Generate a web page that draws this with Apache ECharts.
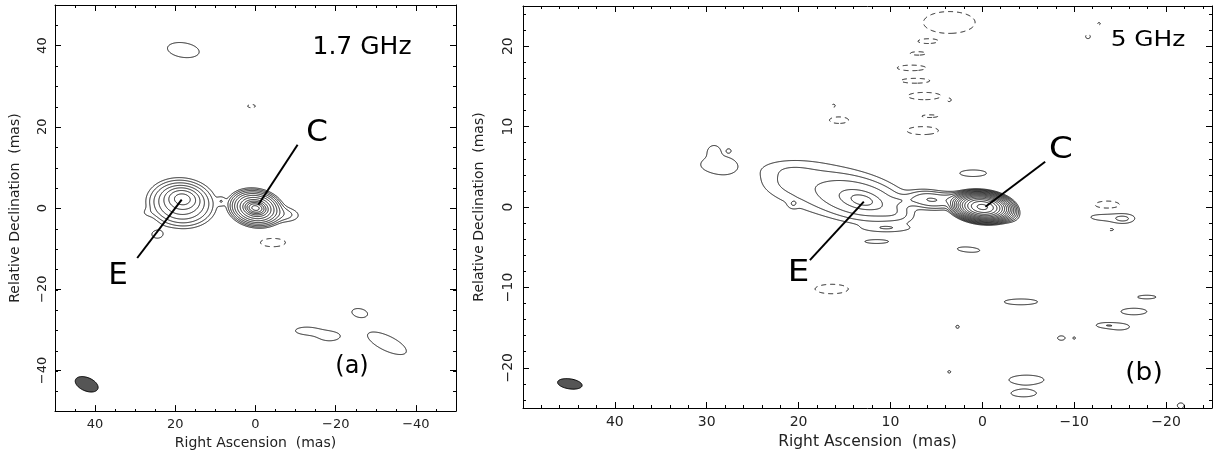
<!DOCTYPE html>
<html><head><meta charset="utf-8">
<script src="https://cdn.jsdelivr.net/npm/echarts@6/dist/echarts.min.js"></script>
<style>html,body{margin:0;padding:0;background:#fff}#c{width:1216px;height:455px}</style>
</head><body><div id="c"></div>
<script>
// ---------------- DATA ----------------
// Panel (a) 1.7 GHz : Gaussian brightness components [RA mas, Dec mas, peak, sigma major, sigma minor, angle deg]
const compsA = [
  [0, 0, 2600, 1.05, 0.65, 10],
  [0, 0, 300, 2.17, 1.45, 10],
  [-6.5, -1.5, 3, 2.8, 1.2, 5],
  [18.2, 2.3, 70, 1.9, 1.25, 5],
  [18.5, 1.2, 30, 3.4, 2.4, 5],
  [8.5, 1.7, 1.6, 0.8, 0.8, 0],
  [27.0, -1.2, 0.7, 1.3, 0.8, 0],
  [24.5, -6.5, 1.3, 1.8, 1.25, 0],
  [18, 38.9, 1.6, 4.1, 1.85, 8],
  [1.0, 25.1, -1.3, 1.3, 0.55, 0],
  [-4.35, -8.5, -1.6, 3.2, 1.05, 0],
  [-26, -25.8, 1.6, 1.95, 1.03, 10],
  [-12.5, -30.2, 1.4, 3.0, 1.0, 0],
  [-18.5, -31.6, 1.4, 3.0, 1.3, 0],
  [-32.8, -33.3, 1.6, 5.4, 1.9, 25]
];
const levelsA = [-1, 1, 2, 4, 8, 16, 32, 64, 128, 256, 512, 1024, 2048];
const beamA = [[42.1, -43.4, 3.0, 1.65, 22]];
const pointersA = [[[-0.7, 0.8], [-10.5, 15.6]], [[18.4, 2.05], [29.5, -12.3]]];

// Panel (b) 5 GHz
const compsB = [
  [0, 0, 20000, 0.9, 0.5, 8],
  [-2.4, -0.7, 10, 0.75, 0.5, 20],
  [3.0, 0.9, 6, 1.0, 0.5, 5],
  [5.6, 0.9, 8, 1.3, 0.6, 8],
  [8.6, 0.8, 1.6, 1.2, 0.4, 0],
  [13.1, 0.85, 16, 0.9, 0.45, 15],
  [13.1, 0.85, 8, 2.6, 1.3, 15],
  [17.0, 2.2, 3, 4.6, 2.0, 12],
  [10.0, -0.6, 1.5, 1.4, 0.6, 20],
  [21.0, 3.2, 0.6, 1.6, 1.0, 5],
  [21.0, 4.8, 0.6, 2.2, 0.7, 0],
  [20.6, 0.35, 1.1, 0.35, 0.35, 0],
  [29.7, 5.3, 1.1, 1.6, 1.1, 0],
  [27.9, 5.1, 1.1, 1.1, 0.9, 0],
  [29.2, 7.1, 1.3, 0.6, 0.6, 0],
  [27.6, 7.0, 1.5, 0.2, 0.2, 0],
  [1.0, 4.2, 1.5, 1.6, 0.45, 0],
  [10.3, -2.65, 1.5, 1.9, 0.35, 0],
  [11.5, -4.3, 1.5, 1.35, 0.25, 0],
  [1.5, -5.3, 1.5, 1.35, 0.35, 5],
  [-4.2, -11.8, 1.5, 2.0, 0.4, 0],
  [-17.9, -11.2, 1.5, 1.1, 0.25, 0],
  [-16.5, -13.0, 1.5, 1.55, 0.45, 0],
  [-13.3, -14.7, 1.5, 0.9, 0.28, 0],
  [-15.0, -14.9, 1.5, 1.1, 0.42, 0],
  [2.7, -14.9, 1.5, 0.2, 0.2, 0],
  [-8.6, -16.3, 1.5, 0.45, 0.3, 0],
  [-10.0, -16.3, 1.5, 0.15, 0.15, 0],
  [3.6, -20.5, 1.5, 0.17, 0.17, 0],
  [-4.8, -21.5, 1.5, 2.1, 0.65, 0],
  [-4.5, -23.2, 1.5, 1.45, 0.45, 0],
  [-21.6, -24.7, 1.4, 0.45, 0.4, 0],
  [-13.5, -1.2, 1.4, 2.2, 0.6, 0],
  [-15.4, -1.5, 1.6, 0.8, 0.4, 0],
  [-13.6, 0.2, -1.5, 1.6, 0.6, 0],
  [-14.0, -2.8, -1.3, 0.4, 0.2, 0],
  [-11.5, 21.2, -1.3, 0.35, 0.35, 0],
  [-12.7, 22.8, -1.5, 0.15, 0.15, 0],
  [16.2, 12.6, -1.5, 0.2, 0.2, 0],
  [15.6, 10.8, -1.5, 1.15, 0.45, 0],
  [16.4, -10.2, -1.5, 2.0, 0.65, 0],
  [3.6, 22.95, -1.6, 2.9, 1.4, 0],
  [6.0, 20.6, -1.4, 0.95, 0.25, 0],
  [7.0, 19.1, -1.4, 1.0, 0.25, 0],
  [7.7, 17.3, -1.4, 1.9, 0.42, 0],
  [7.3, 15.7, -1.4, 1.9, 0.36, 0],
  [6.3, 13.8, -1.4, 2.2, 0.55, 0],
  [3.6, 13.3, -1.5, 0.15, 0.15, 0],
  [5.7, 11.3, -1.4, 1.05, 0.2, 0],
  [6.5, 9.5, -1.5, 1.9, 0.55, 0]
];
const levelsB = [-1, 1, 2, 4, 8, 16, 32, 64, 128, 256, 512, 1024, 2048, 4096, 8192, 16384];
const beamB = [[44.9, -22.0, 1.35, 0.62, 10]];
const pointersB = [[[-0.34, 0.04], [-6.84, 5.63]], [[12.9, 0.66], [18.77, -6.6]]];

// axis ticks
const majorA = [-40, -20, 0, 20, 40];
const minorA = [-45, -40, -35, -30, -25, -20, -15, -10, -5, 0, 5, 10, 15, 20, 25, 30, 35, 40, 45];
const majorBx = [-20, -10, 0, 10, 20, 30, 40];
const minorBx = [-24, -22, -20, -18, -16, -14, -12, -10, -8, -6, -4, -2, 0, 2, 4, 6, 8, 10, 12, 14, 16, 18, 20, 22, 24, 26, 28, 30, 32, 34, 36, 38, 40, 42, 44, 46, 48];
const majorBy = [-20, -10, 0, 10, 20];
const minorBy = [-24, -22, -20, -18, -16, -14, -12, -10, -8, -6, -4, -2, 0, 2, 4, 6, 8, 10, 12, 14, 16, 18, 20, 22, 24];

// ---------------- CONTOURING ----------------
function makeField(comps, x0, x1, y0, y1, step) {
  const nx = Math.round((x1 - x0) / step) + 1, ny = Math.round((y1 - y0) / step) + 1;
  const f = new Float64Array(nx * ny);
  for (const [cx, cy, amp, sa, sb, ang] of comps) {
    const t = ang * Math.PI / 180, c = Math.cos(t), s = Math.sin(t);
    const R = Math.max(sa, sb) * Math.sqrt(2 * Math.log(Math.abs(amp) / 0.002));
    const i0 = Math.max(0, Math.floor((cx - R - x0) / step)), i1 = Math.min(nx - 1, Math.ceil((cx + R - x0) / step));
    const j0 = Math.max(0, Math.floor((cy - R - y0) / step)), j1 = Math.min(ny - 1, Math.ceil((cy + R - y0) / step));
    const ia = 1 / (2 * sa * sa), ib = 1 / (2 * sb * sb);
    for (let j = j0; j <= j1; j++) {
      const dy = y0 + j * step - cy;
      for (let i = i0; i <= i1; i++) {
        const dx = x0 + i * step - cx;
        const u = dx * c + dy * s, v = -dx * s + dy * c;
        f[j * nx + i] += amp * Math.exp(-u * u * ia - v * v * ib);
      }
    }
  }
  return { f, nx, ny, x0, y0, step };
}

function traceLevel(F, level) {
  const { f, nx, ny, x0, y0, step } = F;
  const NH = nx * ny;
  const adj = new Map();
  const link = (a, b) => {
    let la = adj.get(a); if (!la) { la = []; adj.set(a, la); } la.push(b);
    let lb = adj.get(b); if (!lb) { lb = []; adj.set(b, lb); } lb.push(a);
  };
  for (let j = 0; j < ny - 1; j++) {
    for (let i = 0; i < nx - 1; i++) {
      const k = j * nx + i;
      const va = f[k], vb = f[k + 1], vc = f[k + nx + 1], vd = f[k + nx];
      const code = (va > level ? 1 : 0) | (vb > level ? 2 : 0) | (vc > level ? 4 : 0) | (vd > level ? 8 : 0);
      if (code === 0 || code === 15) continue;
      const eB = k, eR = NH + k + 1, eT = k + nx, eL = NH + k;
      switch (code) {
        case 1: case 14: link(eL, eB); break;
        case 2: case 13: link(eB, eR); break;
        case 3: case 12: link(eL, eR); break;
        case 4: case 11: link(eR, eT); break;
        case 6: case 9: link(eB, eT); break;
        case 7: case 8: link(eL, eT); break;
        case 5: { const m = (va + vb + vc + vd) / 4; if (m > level) { link(eB, eR); link(eL, eT); } else { link(eL, eB); link(eR, eT); } break; }
        case 10: { const m = (va + vb + vc + vd) / 4; if (m > level) { link(eL, eB); link(eR, eT); } else { link(eB, eR); link(eL, eT); } break; }
      }
    }
  }
  const pt = (e) => {
    if (e < NH) {
      const j = Math.floor(e / nx), i = e % nx;
      const v1 = f[e], v2 = f[e + 1], t = (level - v1) / (v2 - v1);
      return [x0 + (i + t) * step, y0 + j * step];
    } else {
      const e2 = e - NH, j = Math.floor(e2 / nx), i = e2 % nx;
      const v1 = f[e2], v2 = f[e2 + nx], t = (level - v1) / (v2 - v1);
      return [x0 + i * step, y0 + (j + t) * step];
    }
  };
  const visited = new Set(), paths = [];
  const walk = (start) => {
    const path = [start]; visited.add(start);
    let prev = -1, cur = start;
    while (true) {
      const nb = adj.get(cur); let next = -1;
      for (const n of nb) { if (n !== prev && !visited.has(n)) { next = n; break; } }
      if (next < 0) { if (path.length > 2 && nb.includes(start)) path.push(start); break; }
      path.push(next); visited.add(next); prev = cur; cur = next;
    }
    return path.map(pt);
  };
  for (const [e, nb] of adj) if (nb.length === 1 && !visited.has(e)) paths.push(walk(e));
  for (const [e] of adj) if (!visited.has(e)) paths.push(walk(e));
  return paths;
}

function buildContours(comps, levels, xr, yr, step) {
  const F = makeField(comps, xr[0], xr[1], yr[0], yr[1], step);
  const pos = [], neg = [];
  for (const L of levels) {
    const paths = traceLevel(F, L);
    for (const p of paths) if (p.length > 1) (L < 0 ? neg : pos).push({ coords: p });
  }
  return { pos, neg };
}

const cA = buildContours(compsA, levelsA, [-50, 50], [-50, 50], 0.1);
const cB = buildContours(compsB, levelsB, [-25, 50], [-25, 25], 0.05);

// ---------------- CHART ----------------
const FONT = '"DejaVu Sans", sans-serif';
const TXT = '#222';
const fmt = v => (v < 0 ? '\u2212' + Math.abs(v) : String(v));

function xAxes(g, min, max, major, minor, lsz, name, nsz, ngap, lmargin) {
  const base = { type: 'value', min, max, inverse: true, splitLine: { show: false }, axisPointer: { show: false } };
  const line = { show: true, onZero: false, lineStyle: { color: '#000', width: 1 } };
  const noline = { show: false, onZero: false };
  return [
    Object.assign({}, base, { gridIndex: g, position: 'bottom', axisLine: line,
      axisTick: { show: true, inside: true, length: 6, customValues: major, lineStyle: { color: '#000' } },
      axisLabel: { show: true, customValues: major, formatter: fmt, fontSize: lsz, fontFamily: FONT, color: TXT, margin: lmargin },
      name, nameLocation: 'middle', nameGap: ngap, nameTextStyle: { fontSize: nsz, fontFamily: FONT, color: TXT } }),
    Object.assign({}, base, { gridIndex: g, position: 'top', axisLine: line,
      axisTick: { show: true, inside: true, length: 6, customValues: major, lineStyle: { color: '#000' } },
      axisLabel: { show: false } }),
    Object.assign({}, base, { gridIndex: g + 1, position: 'bottom', axisLine: noline,
      axisTick: { show: true, inside: true, length: 3, customValues: minor, lineStyle: { color: '#000' } },
      axisLabel: { show: false } }),
    Object.assign({}, base, { gridIndex: g + 1, position: 'top', axisLine: noline,
      axisTick: { show: true, inside: true, length: 3, customValues: minor, lineStyle: { color: '#000' } },
      axisLabel: { show: false } })
  ];
}
function yAxes(g, min, max, major, minor, lsz, name, nsz, ngap, lmargin) {
  const base = { type: 'value', min, max, splitLine: { show: false }, axisPointer: { show: false } };
  const line = { show: true, onZero: false, lineStyle: { color: '#000', width: 1 } };
  const noline = { show: false, onZero: false };
  return [
    Object.assign({}, base, { gridIndex: g, position: 'left', axisLine: line,
      axisTick: { show: true, inside: true, length: 6, customValues: major, lineStyle: { color: '#000' } },
      axisLabel: { show: true, customValues: major, formatter: fmt, rotate: 90, fontSize: lsz, fontFamily: FONT, color: TXT, margin: lmargin },
      name, nameLocation: 'middle', nameGap: ngap, nameRotate: 90, nameTextStyle: { fontSize: nsz, fontFamily: FONT, color: TXT } }),
    Object.assign({}, base, { gridIndex: g, position: 'right', axisLine: line,
      axisTick: { show: true, inside: true, length: 6, customValues: major, lineStyle: { color: '#000' } },
      axisLabel: { show: false } }),
    Object.assign({}, base, { gridIndex: g + 1, position: 'left', axisLine: noline,
      axisTick: { show: true, inside: true, length: 3, customValues: minor, lineStyle: { color: '#000' } },
      axisLabel: { show: false } }),
    Object.assign({}, base, { gridIndex: g + 1, position: 'right', axisLine: noline,
      axisTick: { show: true, inside: true, length: 3, customValues: minor, lineStyle: { color: '#000' } },
      axisLabel: { show: false } })
  ];
}

const beamRender = (params, api) => {
  const cx = api.value(0), cy = api.value(1), a = api.value(2), b = api.value(3), ang = api.value(4) * Math.PI / 180;
  const pts = [];
  for (let k = 0; k < 72; k++) {
    const t = k / 72 * 2 * Math.PI;
    const x = cx + a * Math.cos(t) * Math.cos(ang) - b * Math.sin(t) * Math.sin(ang);
    const y = cy + a * Math.cos(t) * Math.sin(ang) + b * Math.sin(t) * Math.cos(ang);
    pts.push(api.coord([x, y]));
  }
  return { type: 'polygon', shape: { points: pts }, style: { fill: '#555', stroke: '#000', lineWidth: 1 } };
};

function panelSeries(ax, c, beam, pointers) {
  return [
    { type: 'lines', coordinateSystem: 'cartesian2d', xAxisIndex: ax, yAxisIndex: ax, polyline: true, silent: true,
      lineStyle: { color: '#111', width: 1, opacity: 1 }, data: c.pos },
    { type: 'lines', coordinateSystem: 'cartesian2d', xAxisIndex: ax, yAxisIndex: ax, polyline: true, silent: true,
      lineStyle: { color: '#111', width: 1, opacity: 1, type: [5, 4] }, data: c.neg },
    { type: 'lines', coordinateSystem: 'cartesian2d', xAxisIndex: ax, yAxisIndex: ax, silent: true,
      lineStyle: { color: '#000', width: 2, opacity: 1 }, data: pointers.map(p => ({ coords: p })) },
    { type: 'custom', coordinateSystem: 'cartesian2d', xAxisIndex: ax, yAxisIndex: ax, silent: true,
      dimensions: ['x', 'y', 'a', 'b', 'ang'], encode: { x: 0, y: 1 }, data: beam, renderItem: beamRender }
  ];
}

function txt(x, y, text, size, sx) {
  return { type: 'text', x, y, scaleX: sx || 1, silent: true,
    style: { text, fontSize: size, fontFamily: FONT, fill: '#000', textAlign: 'center', textVerticalAlign: 'middle' } };
}

const option = {
  animation: false,
  backgroundColor: '#fff',
  grid: [
    { left: 55, top: 5, width: 401, height: 407 },
    { left: 55, top: 5, width: 401, height: 407 },
    { left: 523, top: 6, width: 689, height: 402 },
    { left: 523, top: 6, width: 689, height: 402 }
  ],
  xAxis: [].concat(
    xAxes(0, -50, 50, majorA, minorA, 13, 'Right Ascension  (mas)', 14, 23, 7),
    xAxes(2, -25, 50, majorBx, minorBx, 14, 'Right Ascension  (mas)', 15.5, 24, 7)
  ),
  yAxis: [].concat(
    yAxes(0, -50, 50, majorA, minorA, 13, 'Relative Declination  (mas)', 14, 33, 6),
    yAxes(2, -25, 25, majorBy, minorBy, 14, 'Relative Declination  (mas)', 14, 37, 8)
  ),
  series: [].concat(
    panelSeries(0, cA, beamA, pointersA),
    panelSeries(4, cB, beamB, pointersB)
  ),
  graphic: [
    txt(362, 47, '1.7 GHz', 25),
    txt(317, 133, 'C', 31),
    txt(118, 276, 'E', 31),
    txt(352, 367, '(a)', 24),
    txt(1148, 40, '5 GHz', 22, 1.13),
    txt(1061, 150, 'C', 31, 1.1),
    txt(798.5, 273, 'E', 31, 1.1),
    txt(1144, 374, '(b)', 24, 1.1)
  ]
};
const chart = echarts.init(document.getElementById('c'), null, { renderer: 'canvas' });
chart.setOption(option);
</script>
</body></html>
